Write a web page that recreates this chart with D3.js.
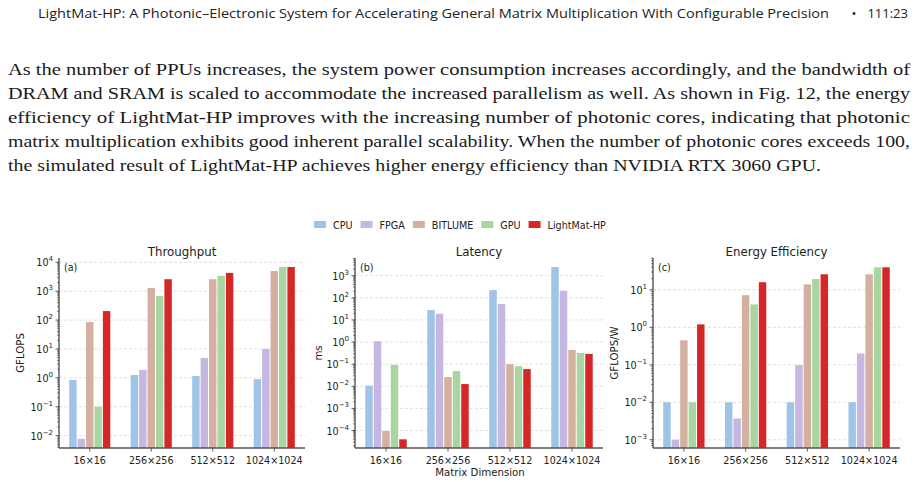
<!DOCTYPE html>
<html>
<head>
<meta charset="utf-8" />
<script src="https://d3js.org/d3.v7.min.js"></script>
<style>
    body { margin: 0; background: #fff; }
    svg text { fill: #222; }
    .hdr { font-family: "Open Sans", sans-serif; font-size: 13px; }
    .body-text { font-family: "Liberation Serif", serif; font-size: 17.5px; fill: #1a1a1a; }
    .tick-label, .legend text, .panel-tag { font-family: "DejaVu Sans", sans-serif; font-size: 9.6px; }
    .title { font-family: "DejaVu Sans", sans-serif; font-size: 11.8px; }
    .axis-label { font-family: "DejaVu Sans", sans-serif; font-size: 10.2px; }
</style>
</head>
<body>
<script>
    // data
    var categories = ["16×16", "256×256", "512×512", "1024×1024"];
    var seriesNames = ["CPU", "FPGA", "BITLUME", "GPU", "LightMat-HP"];
    var seriesColors = ["#a0c4e8", "#c5b7e1", "#d4b0a1", "#a9d6a0", "#d62728"];

    // one row per series, one value per category
    var throughput = [
        [0.85, 1.26, 1.15, 0.9],
        [0.0077, 1.86, 4.9, 10],
        [85, 1300, 2600, 5000],
        [0.1, 680, 3400, 6900],
        [205, 2600, 4300, 6900]
    ];
    var latency = [
        [0.0105, 28, 224, 2450],
        [1.1, 19, 52, 210],
        [0.000095, 0.026, 0.1, 0.44],
        [0.093, 0.049, 0.081, 0.32],
        [0.00004, 0.0126, 0.06, 0.29]
    ];
    var efficiency = [
        [0.01, 0.01, 0.01, 0.01],
        [0.001, 0.0037, 0.098, 0.2],
        [0.45, 7.2, 14, 26],
        [0.01, 4.1, 19.4, 40],
        [1.2, 16, 26, 40]
    ];

    var headerText = "LightMat-HP: A Photonic–Electronic System for Accelerating General Matrix Multiplication With Configurable Precision";
    var bodyLines = [
        "As the number of PPUs increases, the system power consumption increases accordingly, and the bandwidth of",
        "DRAM and SRAM is scaled to accommodate the increased parallelism as well. As shown in Fig. 12, the energy",
        "efficiency of LightMat-HP improves with the increasing number of photonic cores, indicating that photonic",
        "matrix multiplication exhibits good inherent parallel scalability. When the number of photonic cores exceeds 100,",
        "the simulated result of LightMat-HP achieves higher energy efficiency than NVIDIA RTX 3060 GPU."
    ];

    var width = 917, height = 482;
    var svg = d3.select("body").append("svg")
        .attr("width", width)
        .attr("height", height);

    // page header
    svg.append("text").attr("class", "hdr")
        .attr("x", 38).attr("y", 18)
        .attr("textLength", 791).attr("lengthAdjust", "spacingAndGlyphs")
        .text(headerText);
    svg.append("text").attr("class", "hdr").attr("x", 854).attr("y", 18)
        .attr("text-anchor", "middle").text("•");
    svg.append("text").attr("class", "hdr")
        .attr("x", 908).attr("y", 18).attr("text-anchor", "end").text("111:23");

    // paragraph
    svg.selectAll(".body-text").data(bodyLines).enter()
        .append("text").attr("class", "body-text")
        .attr("x", 8)
        .attr("y", function (d, i) { return 75 + i * 24; })
        .attr("textLength", function (d, i) { return i < 4 ? 902 : 813; })
        .attr("lengthAdjust", "spacingAndGlyphs")
        .text(function (d) { return d; });

    // legend
    var legend = svg.append("g").attr("class", "legend");
    var lx = 314;
    seriesNames.forEach(function (name, i) {
        legend.append("rect").attr("x", lx).attr("y", 221)
            .attr("width", 12).attr("height", 7).attr("fill", seriesColors[i]);
        var t = legend.append("text").attr("x", lx + 19).attr("y", 228.5).text(name);
        lx += 19 + t.node().getComputedTextLength() + 8;
    });

    function supLabel(sel, exp) {
        sel.append("tspan").text("10");
        sel.append("tspan").attr("dy", -5).attr("font-size", "7px")
            .text(exp < 0 ? "−" + (-exp) : String(exp));
    }

    function drawPanel(opts) {
        var g = svg.append("g");
        var x = d3.scaleLinear().domain([-0.5, 3.5]).range([opts.left, opts.right]);
        var y = d3.scaleLog().domain(opts.yDomain).range([448, 258]);
        var step = (x(1) - x(0)) * 0.137;

        var lo = Math.ceil(Math.log10(opts.yDomain[0]));
        var hi = Math.floor(Math.log10(opts.yDomain[1]));
        var majors = d3.range(lo, hi + 1);

        // grid
        g.selectAll(".grid").data(majors).enter().append("line")
            .attr("x1", opts.left).attr("x2", opts.right)
            .attr("y1", function (d) { return y(Math.pow(10, d)); })
            .attr("y2", function (d) { return y(Math.pow(10, d)); })
            .attr("stroke", "#d9d9d9").attr("stroke-width", 0.8)
            .attr("stroke-dasharray", "3,2");

        // bars
        opts.values.forEach(function (vals, s) {
            g.selectAll(null).data(vals).enter().append("rect")
                .attr("x", function (d, c) { return x(c) + (s - 2.5) * step + 0.5; })
                .attr("width", step - 1)
                .attr("y", function (d) { return y(d); })
                .attr("height", function (d) { return 448 - y(d); })
                .attr("fill", seriesColors[s]);
        });

        // minor ticks
        var minors = [];
        for (var e = lo - 1; e <= hi + 1; e++) {
            for (var m = 2; m <= 9; m++) {
                var v = m * Math.pow(10, e);
                if (v >= opts.yDomain[0] && v <= opts.yDomain[1]) minors.push(v);
            }
        }
        g.selectAll(".minor").data(minors).enter().append("line")
            .attr("x1", opts.left - 2).attr("x2", opts.left)
            .attr("y1", function (d) { return y(d); }).attr("y2", function (d) { return y(d); })
            .attr("stroke", "#333").attr("stroke-width", 0.6);

        // major ticks + labels
        majors.forEach(function (d) {
            var yy = y(Math.pow(10, d));
            g.append("line").attr("x1", opts.left - 3.5).attr("x2", opts.left)
                .attr("y1", yy).attr("y2", yy).attr("stroke", "#333").attr("stroke-width", 0.8);
            var t = g.append("text").attr("class", "tick-label")
                .attr("x", opts.left - 6).attr("y", yy + 4).attr("text-anchor", "end");
            supLabel(t, d);
        });

        // x ticks + labels
        categories.forEach(function (c, i) {
            g.append("line").attr("x1", x(i)).attr("x2", x(i))
                .attr("y1", 448).attr("y2", 451.5).attr("stroke", "#333").attr("stroke-width", 0.8);
            g.append("text").attr("class", "tick-label")
                .attr("x", x(i)).attr("y", 463.5).attr("text-anchor", "middle").text(c);
        });

        // spines
        g.append("line").attr("x1", opts.left).attr("x2", opts.left)
            .attr("y1", 258).attr("y2", 448).attr("stroke", "#444").attr("stroke-width", 1.3);
        g.append("line").attr("x1", opts.left).attr("x2", opts.right)
            .attr("y1", 448).attr("y2", 448).attr("stroke", "#555").attr("stroke-width", 1.3);

        // title, tag, y label
        g.append("text").attr("class", "title")
            .attr("x", (opts.left + opts.right) / 2).attr("y", 256)
            .attr("text-anchor", "middle").text(opts.title);
        g.append("text").attr("class", "panel-tag")
            .attr("x", opts.left + 5).attr("y", 271).text(opts.tag);
        g.append("text").attr("class", "axis-label")
            .attr("transform", "translate(" + opts.ylabelX + ",353) rotate(-90)")
            .attr("text-anchor", "middle").text(opts.ylabel);
    }

    drawPanel({ left: 59, right: 305, yDomain: [Math.pow(10, -2.43), Math.pow(10, 4.15)],
        values: throughput, title: "Throughput", tag: "(a)", ylabel: "GFLOPS", ylabelX: 24 });
    drawPanel({ left: 355, right: 603, yDomain: [Math.pow(10, -4.79), Math.pow(10, 3.8)],
        values: latency, title: "Latency", tag: "(b)", ylabel: "ms", ylabelX: 322 });
    drawPanel({ left: 653, right: 900, yDomain: [Math.pow(10, -3.22), Math.pow(10, 1.85)],
        values: efficiency, title: "Energy Efficiency", tag: "(c)", ylabel: "GFLOPS/W", ylabelX: 618 });

    svg.append("text").attr("class", "axis-label")
        .attr("x", 480).attr("y", 476).attr("text-anchor", "middle").text("Matrix Dimension");
</script>
</body>
</html>
